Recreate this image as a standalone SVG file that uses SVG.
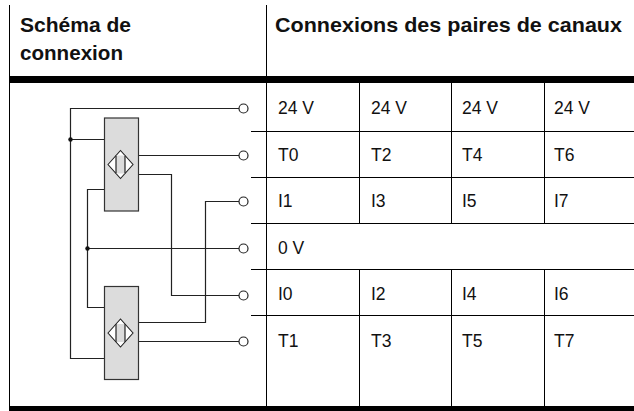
<svg xmlns="http://www.w3.org/2000/svg" width="634" height="411" viewBox="0 0 634 411">
<defs>
<style>
.hd{font-family:"Liberation Sans",Arial,sans-serif;font-weight:bold;font-size:20.5px;fill:#111}
.tx{font-family:"Liberation Sans",Arial,sans-serif;font-size:17.5px;fill:#111}
.tl{stroke:#000;stroke-width:1;fill:none}
.w{stroke:#222;stroke-width:1.2;fill:none}
.term{fill:#fff;stroke:#222;stroke-width:1.2}
.box{fill:#dcdcdc;stroke:#333;stroke-width:1.2}
.dia{fill:#fff;stroke:#222;stroke-width:1.1}
.dot{fill:#111}
</style>
<g id="sensor">
<rect class="box" x="0" y="0" width="34" height="93"/>
<polygon class="dia" points="3.5,46.5 16,32.5 28.5,46.5 16,60.5"/>
<rect x="11.5" y="37.5" width="9" height="18" fill="#dcdcdc"/>
<line class="w" x1="11.5" y1="37.5" x2="11.5" y2="55.5"/>
<line class="w" x1="20.5" y1="37.5" x2="20.5" y2="55.5"/>
</g>
</defs>

<g id="table">
<line class="tl" x1="9.5" y1="5" x2="9.5" y2="406"/>
<line class="tl" x1="266.5" y1="5" x2="266.5" y2="406"/>
<rect x="9" y="76" width="625" height="7" fill="#000"/>
<rect x="9" y="406" width="625" height="5" fill="#000"/>
<line class="tl" x1="251" y1="131.5" x2="634" y2="131.5"/>
<line class="tl" x1="251" y1="177.5" x2="634" y2="177.5"/>
<line class="tl" x1="251" y1="223.5" x2="634" y2="223.5"/>
<line class="tl" x1="251" y1="269.5" x2="634" y2="269.5"/>
<line class="tl" x1="251" y1="315.5" x2="634" y2="315.5"/>
<line class="tl" x1="359.5" y1="83" x2="359.5" y2="223.5"/>
<line class="tl" x1="451.5" y1="83" x2="451.5" y2="223.5"/>
<line class="tl" x1="544.5" y1="83" x2="544.5" y2="223.5"/>
<line class="tl" x1="359.5" y1="269.5" x2="359.5" y2="406"/>
<line class="tl" x1="451.5" y1="269.5" x2="451.5" y2="406"/>
<line class="tl" x1="544.5" y1="269.5" x2="544.5" y2="406"/>
</g>

<g id="headers">
<text class="hd" x="20" y="32" textLength="111" lengthAdjust="spacingAndGlyphs">Schéma de</text>
<text class="hd" x="20" y="60" textLength="103" lengthAdjust="spacingAndGlyphs">connexion</text>
<text class="hd" x="275" y="32" textLength="347" lengthAdjust="spacingAndGlyphs">Connexions des paires de canaux</text>
</g>

<g id="cells">
<text class="tx" x="278" y="114">24 V</text>
<text class="tx" x="371" y="114">24 V</text>
<text class="tx" x="462" y="114">24 V</text>
<text class="tx" x="554" y="114">24 V</text>
<text class="tx" x="278" y="161">T0</text>
<text class="tx" x="371" y="161">T2</text>
<text class="tx" x="462" y="161">T4</text>
<text class="tx" x="554" y="161">T6</text>
<text class="tx" x="278" y="207">I1</text>
<text class="tx" x="371" y="207">I3</text>
<text class="tx" x="462" y="207">I5</text>
<text class="tx" x="554" y="207">I7</text>
<text class="tx" x="278" y="254">0 V</text>
<text class="tx" x="278" y="300">I0</text>
<text class="tx" x="371" y="300">I2</text>
<text class="tx" x="462" y="300">I4</text>
<text class="tx" x="554" y="300">I6</text>
<text class="tx" x="278" y="347">T1</text>
<text class="tx" x="371" y="347">T3</text>
<text class="tx" x="462" y="347">T5</text>
<text class="tx" x="554" y="347">T7</text>
</g>

<g id="connectors">
<path class="w" d="M239 108.5 H70.5 V358.5 H104.5"/>
<path class="w" d="M70.5 139.5 H104.5"/>
<path class="w" d="M138.5 155.5 H239"/>
<path class="w" d="M138.5 174.5 H171.5 V295.5 H239"/>
<path class="w" d="M104.5 189.5 H87.5 V307.5 H104.5"/>
<path class="w" d="M87.5 248.5 H239"/>
<path class="w" d="M239 201.5 H205.5 V322.5 H138.5"/>
<path class="w" d="M138.5 341.5 H239"/>
<circle class="dot" cx="70.5" cy="139.5" r="2.2"/>
<circle class="dot" cx="87.5" cy="248.5" r="2.2"/>
</g>

<g id="sensor1">
<use href="#sensor" x="104.5" y="118"/>
</g>
<g id="sensor2">
<use href="#sensor" x="104.5" y="286.5"/>
</g>

<g id="terminals">
<circle class="term" cx="243.5" cy="108.5" r="4.5"/>
<circle class="term" cx="243.5" cy="155.5" r="4.5"/>
<circle class="term" cx="243.5" cy="201.5" r="4.5"/>
<circle class="term" cx="243.5" cy="248.5" r="4.5"/>
<circle class="term" cx="243.5" cy="295.5" r="4.5"/>
<circle class="term" cx="243.5" cy="341.5" r="4.5"/>
</g>
</svg>
